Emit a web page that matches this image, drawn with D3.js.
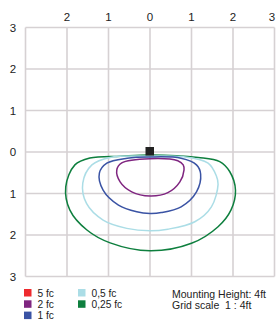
<!DOCTYPE html>
<html>
<head>
<meta charset="utf-8">
<script src="https://cdn.jsdelivr.net/npm/d3@7"></script>
<style>
  body { margin: 0; background: #fff; }
  svg text { font-family: "Liberation Sans", Arial, sans-serif; fill: #222; white-space: pre; }
</style>
</head>
<body>
<div id="chart"></div>
<script>
// grid ticks (feet in grid units)
const xTicks = [-3, -2, -1, 0, 1, 2, 3];
const yTicks = [-3, -2, -1, 0, 1, 2, 3];

// isolux contours, [x, y] in grid units, y positive = downward
const contour_025 = [[0,0.07],[1.16,0.13],[1.68,0.23],[1.92,0.47],[2.06,0.92],[1.95,1.40],[1.64,1.80],[1.0,2.2],[0,2.38],
  [-0.96,2.19],[-1.52,1.88],[-1.93,1.40],[-2.03,0.84],[-1.81,0.31],[-1.45,0.145],[-0.7,0.1]];
const contour_05 = [[0,0.10],[0.75,0.11],[1.40,0.27],[1.60,0.58],[1.64,0.78],[1.48,1.32],[1.08,1.68],[0.43,1.86],[0,1.90],
  [-0.56,1.84],[-1.13,1.64],[-1.53,1.24],[-1.62,0.75],[-1.40,0.31],[-0.96,0.13]];
const contour_1 = [[0,0.12],[0.75,0.15],[1.12,0.31],[1.22,0.53],[1.12,0.96],[0.75,1.32],[0.27,1.46],[0,1.48],
  [-0.32,1.44],[-0.76,1.28],[-1.13,0.92],[-1.22,0.51],[-1.04,0.27],[-0.55,0.15]];
const contour_2 = [[0,0.16],[0.67,0.21],[0.80,0.31],[0.82,0.43],[0.72,0.72],[0.43,0.98],[0,1.06],
  [-0.44,0.96],[-0.72,0.72],[-0.80,0.43],[-0.68,0.26]];

const legendLabels = ["5 fc", "2 fc", "1 fc", "0,5 fc", "0,25 fc"];
const legendColors = ["#ee2a2e", "#7f2580", "#3a53a4", "#abdde6", "#0e7f3e"];
const notes = ["Mounting Height: 4ft", "Grid scale  1 : 4ft"];

const contours = [
  {pts: contour_025, color: "#0e7f3e"},
  {pts: contour_05, color: "#abdde6"},
  {pts: contour_1, color: "#3a53a4"},
  {pts: contour_2, color: "#7f2580"}
];

const W = 277, H = 320;
const svg = d3.select("#chart").append("svg")
  .attr("width", W).attr("height", H);

const x = d3.scaleLinear().domain([-3, 3]).range([25.5, 274.5]);
const y = d3.scaleLinear().domain([-3, 3]).range([27.5, 276.5]);

// grid
svg.append("g").selectAll("line.v")
  .data(xTicks).enter().append("line")
  .attr("x1", d => x(d)).attr("x2", d => x(d))
  .attr("y1", y(-3)).attr("y2", y(3))
  .attr("stroke", "#d6d1d3").attr("stroke-width", 1.6);
svg.append("g").selectAll("line.h")
  .data(yTicks).enter().append("line")
  .attr("y1", d => y(d)).attr("y2", d => y(d))
  .attr("x1", x(-3)).attr("x2", x(3))
  .attr("stroke", "#d6d1d3").attr("stroke-width", 1.6);

// top labels
svg.append("g").selectAll("text")
  .data(xTicks.slice(1)).enter().append("text")
  .attr("x", d => d === 3 ? x(d) - 2.5 : x(d))
  .attr("y", 21)
  .attr("text-anchor", "middle")
  .attr("font-size", 11.5)
  .text(d => Math.abs(d));

// left labels
svg.append("g").selectAll("text")
  .data(yTicks).enter().append("text")
  .attr("x", 13)
  .attr("y", d => y(d) + 4)
  .attr("text-anchor", "middle")
  .attr("font-size", 11.5)
  .text(d => Math.abs(d));

// contours
const line = d3.line()
  .x(d => x(d[0])).y(d => y(d[1]))
  .curve(d3.curveCatmullRomClosed.alpha(0.5));

svg.append("g").selectAll("path")
  .data(contours).enter().append("path")
  .attr("d", d => line(d.pts))
  .attr("fill", "none")
  .attr("stroke", d => d.color)
  .attr("stroke-width", 1.5);

// luminaire
svg.append("rect")
  .attr("x", x(0) - 4.5).attr("y", y(0) - 5)
  .attr("width", 8.5).attr("height", 8.5)
  .attr("fill", "#222");

// legend
const leg = svg.append("g").selectAll("g")
  .data(legendLabels).enter().append("g")
  .attr("transform", (d, i) => {
    const col = i < 3 ? 0 : 1;
    const row = i < 3 ? i : i - 3;
    return "translate(" + (24 + col * 54) + "," + (289 + row * 11.3) + ")";
  });
leg.append("rect")
  .attr("width", 7.5).attr("height", 7.5)
  .attr("fill", (d, i) => legendColors[i]);
leg.append("text")
  .attr("x", 13.5).attr("y", 7.5)
  .attr("font-size", 10.2)
  .text(d => d);

svg.append("g").selectAll("text")
  .data(notes).enter().append("text")
  .attr("x", 172)
  .attr("y", (d, i) => 298 + i * 11)
  .attr("font-size", 10.5)
  .text(d => d);
</script>
</body>
</html>
